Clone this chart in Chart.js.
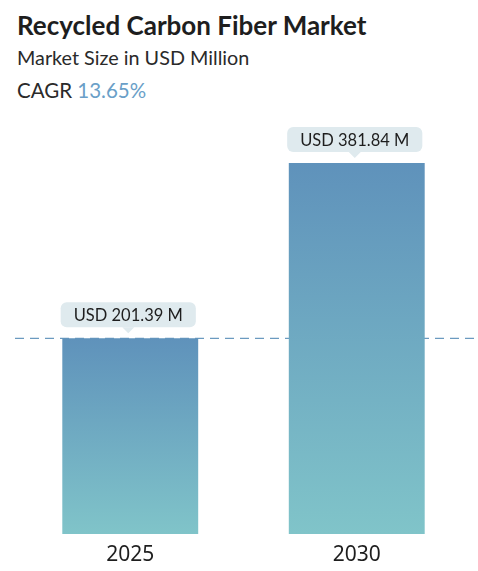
<!DOCTYPE html>
<html><head><meta charset="utf-8">
<script src="https://cdn.jsdelivr.net/npm/chart.js@4.4.1/dist/chart.umd.min.js"></script>
<style>
html,body{margin:0;padding:0;background:#fff;width:478px;height:571px;overflow:hidden;font-family:Lato,"Noto Sans",sans-serif;}
div.tx{position:absolute;left:17px;line-height:1;white-space:nowrap;}
#t{top:12px;font-size:26px;font-weight:700;color:#1e1e1e;}
#s{top:48px;font-size:19.8px;color:#2a2a2a;}
#c{top:80px;font-size:20.5px;color:#2a2a2a;}
#c span{color:#6a9fc8;}
#wrap{position:absolute;left:0;top:0;width:478px;height:571px;}
</style></head>
<body>
<div id="t" class="tx">Recycled Carbon Fiber Market</div>
<div id="s" class="tx">Market Size in USD Million</div>
<div id="c" class="tx">CAGR <span>13.65%</span></div>
<div id="wrap"><canvas id="cv"></canvas></div>
<script>
const categories = ["2025", "2030"];
const values = [201.39, 381.84];
const valueLabels = ["USD 201.39 M", "USD 381.84 M"];

function barGradient(ctx) {
  const chart = ctx.chart;
  const area = chart.chartArea;
  if (!area) return '#6a9fc0';
  const y = chart.scales.y;
  const top = y.getPixelForValue(values[ctx.dataIndex]);
  const g = chart.ctx.createLinearGradient(0, top, 0, area.bottom);
  g.addColorStop(0, '#5f92bb');
  g.addColorStop(1, '#80c4c9');
  return g;
}

const refLine = {
  id: 'refLine',
  beforeDatasetsDraw(chart) {
    const c = chart.ctx;
    const y = chart.scales.y.getPixelForValue(values[0]);
    c.save();
    c.strokeStyle = '#6b9ac0';
    c.lineWidth = 1.3;
    c.setLineDash([9, 6]);
    c.beginPath();
    c.moveTo(15, y);
    c.lineTo(474, y);
    c.stroke();
    c.restore();
  }
};

const labelBoxes = {
  id: 'labelBoxes',
  afterDatasetsDraw(chart) {
    const c = chart.ctx;
    const meta = chart.getDatasetMeta(0);
    c.save();
    c.font = '16.5px Lato, "Noto Sans", sans-serif';
    meta.data.forEach((bar, i) => {
      const x = bar.x - 2;
      const top = bar.y;
      const text = valueLabels[i];
      const w = c.measureText(text).width + 26;
      const h = 25;
      const bx = x - w / 2;
      const by = top - 11 - h;
      c.fillStyle = '#dfeaee';
      c.beginPath();
      c.roundRect(bx, by, w, h, 6);
      c.fill();
      c.beginPath();
      c.moveTo(x - 6, by + h);
      c.lineTo(x + 6, by + h);
      c.lineTo(x, by + h + 6);
      c.closePath();
      c.fill();
      c.fillStyle = '#1e1e1e';
      c.textAlign = 'center';
      c.textBaseline = 'middle';
      c.fillText(text, x, by + h / 2 + 1);
    });
    c.restore();
  }
};

new Chart(document.getElementById('cv'), {
  type: 'bar',
  data: {
    labels: categories,
    datasets: [{
      data: values,
      backgroundColor: barGradient,
      borderWidth: 0,
      categoryPercentage: 0.6,
      barPercentage: 1.0
    }]
  },
  options: {
    responsive: true,
    maintainAspectRatio: false,
    animation: false,
    layout: { padding: { top: 125, left: 17, right: 8, bottom: 5 } },
    plugins: { legend: { display: false }, tooltip: { enabled: false } },
    scales: {
      x: {
        grid: { display: false, drawTicks: false },
        border: { display: false },
        afterFit(scale) { scale.height = 32; },
        ticks: { color: '#1e1e1e', padding: 8, font: { size: 21, family: '"Noto Sans", sans-serif' } }
      },
      y: {
        display: false,
        min: 0,
        max: 421
      }
    }
  },
  plugins: [refLine, labelBoxes]
});
</script>
</body></html>
